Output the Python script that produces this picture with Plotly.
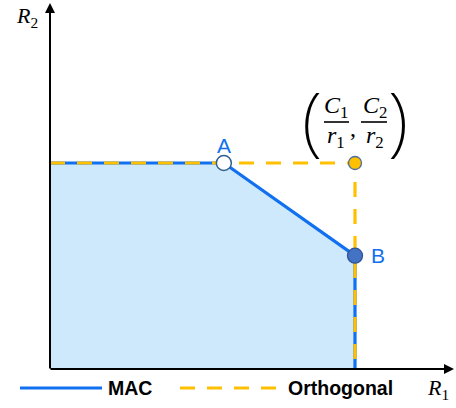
import plotly.graph_objects as go

# ---- data (normalized rates: C1/r1 = 1, C2/r2 = 1) ----
mac_r1 = [0.0, 0.0, 0.57, 1.0, 1.0]
mac_r2 = [0.0, 1.0, 1.0, 0.55, 0.0]
orth_r1 = [0.0, 1.0, 1.0]
orth_r2 = [1.0, 1.0, 0.0]
point_A = (0.57, 1.0)
point_B = (1.0, 0.55)
corner = (1.0, 1.0)
legend_labels = ["MAC", "Orthogonal"]

BLUE = "#1170F0"
YELLOW = "#FFC000"
FILL = "#CDE9FB"

W, H = 456, 408
# pixel mapping: px = 50 + 305*x ; py = 369 - 206*y
XR = [-50 / 305, (W - 50) / 305]
YR = [-(H - 369) / 206, 369 / 206]


def px2x(p):
    return (p - 50) / 305


def py2y(p):
    return (369 - p) / 206


fig = go.Figure()

# capacity region fill
fig.add_trace(go.Scatter(x=mac_r1, y=mac_r2, mode="none", fill="toself",
                         fillcolor=FILL, showlegend=False, hoverinfo="skip"))
# MAC boundary (solid blue)
fig.add_trace(go.Scatter(x=mac_r1[1:], y=mac_r2[1:], mode="lines",
                         line=dict(color=BLUE, width=3.2), showlegend=False))
# Orthogonal boundary (dashed yellow)
fig.add_trace(go.Scatter(x=orth_r1, y=orth_r2, mode="lines",
                         line=dict(color=YELLOW, width=3.2, dash="15px,12px"),
                         showlegend=False))
# points
fig.add_trace(go.Scatter(x=[corner[0]], y=[corner[1]], mode="markers",
                         marker=dict(size=13, color=YELLOW, line=dict(color="#4B6E9E", width=1.3)),
                         showlegend=False))
fig.add_trace(go.Scatter(x=[point_A[0]], y=[point_A[1]], mode="markers",
                         marker=dict(size=15, color="white", line=dict(color="#2F5F8F", width=1.5)),
                         showlegend=False))
fig.add_trace(go.Scatter(x=[point_B[0]], y=[point_B[1]], mode="markers",
                         marker=dict(size=15, color="#4472C4", line=dict(color="#2F5597", width=1.3)),
                         showlegend=False))

ann = []
# axes arrows
ann.append(dict(x=px2x(454), y=0, ax=px2x(49), ay=0, xref="x", yref="y", axref="x", ayref="y",
                showarrow=True, arrowhead=2, arrowsize=1, arrowwidth=2, arrowcolor="black",
                text="", standoff=0, startstandoff=0))
ann.append(dict(x=0, y=py2y(3), ax=0, ay=py2y(370), xref="x", yref="y", axref="x", ayref="y",
                showarrow=True, arrowhead=2, arrowsize=1, arrowwidth=2, arrowcolor="black",
                text="", standoff=0, startstandoff=0))

serif = "Liberation Serif"


def txt(x, y, text, size, family=serif, color="black", xanchor="center", weight=None):
    f = dict(family=family, size=size, color=color)
    if weight is not None:
        f["weight"] = weight
    return dict(x=x, y=y, xref="x", yref="y", showarrow=False, text=text,
                xanchor=xanchor, yanchor="middle", font=f)


# axis labels
ann.append(txt(px2x(27), py2y(17), "<i>R</i><sub>2</sub>", 22))
ann.append(txt(px2x(438), py2y(389), "<i>R</i><sub>1</sub>", 22))

# point labels
ann.append(txt(point_A[0], py2y(145), "A", 21, family="Liberation Sans", color=BLUE))
ann.append(txt(px2x(378), point_B[1], "B", 21, family="Liberation Sans", color=BLUE))

# corner label (C1/r1, C2/r2)
ann.append(txt(px2x(312), py2y(117), "(", 76, family="Noto Sans", weight=200))
ann.append(txt(px2x(398), py2y(117), ")", 76, family="Noto Sans", weight=200))
ann.append(txt(px2x(336), py2y(107), "<i>C</i><sub>1</sub>", 24))
ann.append(txt(px2x(336), py2y(137), "<i>r</i><sub>1</sub>", 24))
ann.append(txt(px2x(375), py2y(107), "<i>C</i><sub>2</sub>", 24))
ann.append(txt(px2x(375), py2y(137), "<i>r</i><sub>2</sub>", 24))
ann.append(txt(px2x(353), py2y(128), ",", 24))

# legend text
ann.append(txt(px2x(106), py2y(388), "<b>%s</b>" % legend_labels[0], 19.5,
               family="Liberation Sans", xanchor="left"))
ann.append(txt(px2x(286), py2y(388), "<b>%s</b>" % legend_labels[1], 19.5,
               family="Liberation Sans", xanchor="left"))

shapes = [
    # fraction bars
    dict(type="line", xref="x", yref="y", x0=px2x(324), x1=px2x(349), y0=py2y(122), y1=py2y(122),
         line=dict(color="black", width=1.6)),
    dict(type="line", xref="x", yref="y", x0=px2x(361), x1=px2x(387), y0=py2y(122), y1=py2y(122),
         line=dict(color="black", width=1.6)),
    # legend samples
    dict(type="line", xref="x", yref="y", x0=px2x(20), x1=px2x(102), y0=py2y(388), y1=py2y(388),
         line=dict(color=BLUE, width=3.2)),
    dict(type="line", xref="x", yref="y", x0=px2x(180), x1=px2x(279), y0=py2y(388), y1=py2y(388),
         line=dict(color=YELLOW, width=3.2, dash="15px,12px")),
]

fig.update_layout(
    width=W, height=H,
    margin=dict(l=0, r=0, t=0, b=0),
    paper_bgcolor="white", plot_bgcolor="white",
    xaxis=dict(range=XR, visible=False, fixedrange=True),
    yaxis=dict(range=YR, visible=False, fixedrange=True),
    annotations=ann, shapes=shapes,
    showlegend=False,
)

fig.write_html("out.html", config={"displayModeBar": False},
               post_script="document.body.style.margin='0';")
